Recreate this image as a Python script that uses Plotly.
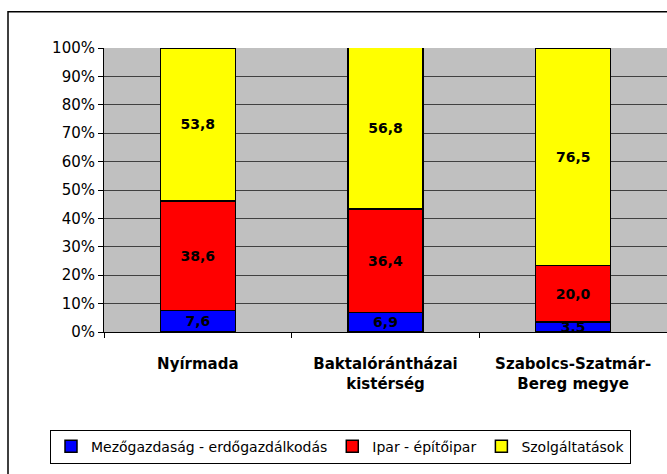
import plotly.graph_objects as go

categories = ["Nyírmada", "Baktalórántházai<br>kistérség", "Szabolcs-Szatmár-<br>Bereg megye"]
series_names = ["Mezőgazdaság - erdőgazdálkodás", "Ipar - építőipar", "Szolgáltatások"]
agri = [7.6, 6.9, 3.5]
industry = [38.6, 36.4, 20.0]
services = [53.8, 56.8, 76.5]
colors = ["#0000FF", "#FF0000", "#FFFF00"]
y_ticks = [0, 10, 20, 30, 40, 50, 60, 70, 80, 90, 100]
y_tick_labels = [f"{v}%" for v in y_ticks]

FONT = "DejaVu Sans, Liberation Sans, Arial"

fig = go.Figure()
for name, vals, col in zip(series_names, [agri, industry, services], colors):
    fig.add_trace(go.Bar(
        x=categories, y=vals, name=name,
        marker=dict(color=col, line=dict(color="black", width=1.5)),
        texttemplate="%{y:.1f}", textposition="inside", insidetextanchor="middle",
        constraintext="none",
        textfont=dict(family=FONT, size=14, color="black", weight="bold"),
    ))

L, T, B = 104, 47.5, 141.5
W, H = 667, 474
pw, ph = W - L, H - T - B

fig.update_layout(
    width=W, height=H,
    margin=dict(l=L, r=0, t=T, b=B, pad=0),
    barmode="stack", bargap=0.6,
    separators=",.",
    paper_bgcolor="white", plot_bgcolor="#C0C0C0",
    font=dict(family=FONT, size=14, color="black"),
    showlegend=True,
    legend=dict(orientation="h", x=(50 - L) / pw, xanchor="left",
                y=(T + ph - 447.5) / ph, yanchor="middle",
                bordercolor="black", borderwidth=1, bgcolor="white",
                font=dict(family=FONT, size=14), itemwidth=30, traceorder="normal"),
    xaxis=dict(tickson="boundaries", ticks="outside", ticklen=5, tickcolor="black",
               showline=True, linecolor="black", linewidth=1,
               ticklabelstandoff=18,
               tickfont=dict(family=FONT, size=15, weight="bold"), showgrid=False),
    yaxis=dict(range=[0, 100], tickvals=y_ticks, ticktext=y_tick_labels,
               ticks="outside", ticklen=5, tickcolor="black",
               showline=True, linecolor="black", linewidth=1,
               gridcolor="#404040", gridwidth=1, zeroline=False,
               tickfont=dict(family=FONT, size=15)),
    shapes=[dict(type="rect", xref="paper", yref="paper",
                 x0=(8 - L) / pw, x1=(690 - L) / pw,
                 y0=(T + ph - 500) / ph, y1=(T + ph - 11) / ph,
                 line=dict(color="black", width=1.5), fillcolor="rgba(0,0,0,0)", layer="below")],
)

fig.write_html("out.html", config={"displayModeBar": False},
               post_script="document.body.style.margin='0px';document.body.style.overflow='hidden';")
